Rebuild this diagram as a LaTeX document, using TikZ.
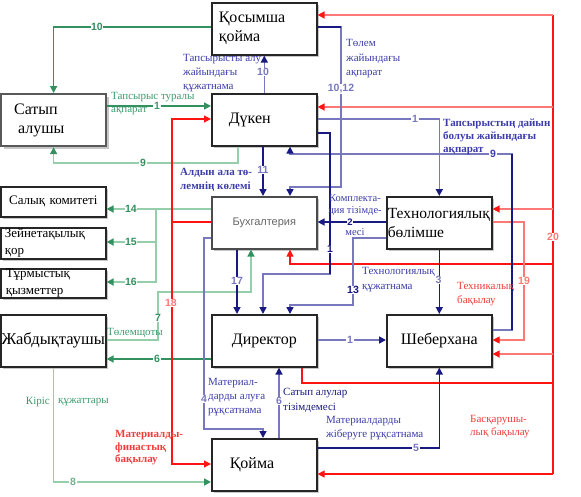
\documentclass[tikz,border=0pt]{standalone}
\usepackage{fontspec}
\setmainfont{Liberation Serif}
\newfontfamily\sansf{Liberation Sans}
\usetikzlibrary{arrows.meta,shadows}
\definecolor{gdark}{RGB}{50,145,95}
\definecolor{glite}{RGB}{150,205,170}
\definecolor{navy}{RGB}{25,25,130}
\definecolor{blite}{RGB}{120,120,190}
\definecolor{rbright}{RGB}{255,20,20}
\definecolor{rlite}{RGB}{255,120,120}
\definecolor{btext}{RGB}{60,60,170}
\definecolor{rtext}{RGB}{240,60,60}
\definecolor{gtext}{RGB}{60,155,110}
\tikzset{
 box/.style={draw=black!85, line width=1.6pt, fill=white, minimum width=105pt, minimum height=52pt,
   anchor=north west, inner xsep=0pt, inner ysep=0pt, font=\fontsize{16}{19}\selectfont,
   drop shadow={shadow xshift=2.5pt, shadow yshift=-2.5pt, fill=black!22, opacity=1}},
 smallbox/.style={box, font=\fontsize{13}{17}\selectfont},
 gl/.style={draw=gdark, line width=1.5pt},
 gll/.style={draw=glite, line width=1.6pt},
 bl/.style={draw=navy, line width=1.5pt},
 bll/.style={draw=blite, line width=1.6pt},
 rl/.style={draw=rbright, line width=1.2pt},
 rll/.style={draw=rlite, line width=1.5pt},
 ag/.style={-{Triangle[length=7pt,width=7pt,color=gdark]}},
 ab/.style={-{Triangle[length=7pt,width=7pt,color=navy]}},
 ar/.style={-{Triangle[length=7pt,width=7pt,color=rbright]}},
 num/.style={fill=white, inner sep=0.6pt, font=\sansf\bfseries\fontsize{10.5}{10.5}\selectfont},
 etxt/.style={inner sep=0pt, anchor=west, align=left, font=\fontsize{11}{14}\selectfont},
}
\begin{document}
\begin{tikzpicture}[x=1pt,y=-1pt]
\useasboundingbox (0,0) rectangle (581,496);
% boxes
\node[box, text width=91pt, align=left] (kos) at (211,2) {Қосымша\\қойма};
\node[box, text width=79pt, align=left, draw=black!65, line width=2.2pt] (sat) at (0,93) {Сатып\\\hspace*{4pt}алушы};
\node[box, text width=71pt, align=left] (duk) at (211,93) {Дүкен};
\node[smallbox, minimum height=30pt, text width=105pt, align=center] (sal) at (0,186) {Салық комитеті};
\node[smallbox, minimum height=31pt, text width=97pt, align=left] (zei) at (0,227) {Зейнетақылық\\қор};
\node[smallbox, minimum height=29pt, text width=95pt, align=left] (tur) at (0,268) {Тұрмыстық\\қызметтер};
\node[box, text width=105pt, align=center, font=\sansf\fontsize{11}{13}\selectfont, text=black!60, draw=black!70] (buh) at (211,196) {Бухгалтерия};
\node[box, text width=103pt, align=left, font=\fontsize{15.5}{19}\selectfont] (tex) at (386,196) {Технологиялық\\бөлімше};
\node[box, text width=105pt, align=center, font=\fontsize{16.5}{19}\selectfont] (zhab) at (0,314) {Жабдықтаушы};
\node[box, text width=105pt, align=center] (dir) at (211,314) {Директор};
\node[box, text width=105pt, align=center] (sheb) at (386,314) {Шеберхана};
\node[box, text width=69pt, align=left] (koima) at (211,438) {Қойма};
% green connectors
\draw[gl,ag] (kos.west |- 0,27) -| (sat.north);
\draw[gl,ag] (sat.east |- 0,106) -- (duk.west |- 0,106);
\draw[gll,ag] (duk.south -| 238,0) -- (238,163) -| (sat.south);
\draw[gll,ag] (buh.west |- 0,209) -- (sal.east |- 0,209);
\draw[gll,ag] (156,209) |- (zei.east |- 0,242);
\draw[gll,ag] (156,209) |- (tur.east |- 0,282);
\draw[gll,ag] (zhab.east |- 0,340) -- (158,340) -- (158,292) -| (buh.south -| 251,0);
\draw[gl,ag] (dir.west |- 0,359) -- (zhab.east |- 0,359);
\draw[gll,ag] (zhab.south) |- (koima.west |- 0,482);
% red material-financial control
\coordinate (rj) at (172,222);
\draw[rl] (buh.west |- rj) -- (rj);
\draw[rl,ar] (rj) |- (duk.west |- 0,119);
\draw[rl,ar] (rj) |- (koima.west |- 0,464);
% red management control
\coordinate (rtop) at (553,15);
\coordinate (rbot) at (553,474);
\draw[rl] (dir.south -| 302,0) |- (553,383);
\draw[rl] (rtop) -- (rbot);
\draw[rll,ar] (rtop) -- (kos.east |- rtop);
\draw[rll,ar] (553,107) -- (duk.east |- 0,107);
\draw[rll,ar] (553,209) -- (tex.east |- 0,209);
\draw[rl,ar] (553,264) -| (buh.south -| 290,0);
\draw[rll,ar] (553,354) -- (sheb.east |- 0,354);
\draw[rl,ar] (rbot) -- (koima.east |- rbot);
% red technical control
\draw[rll,line width=1.2pt,ar] (tex.east |- 0,222) -| (524,340) -- (sheb.east |- 0,340);
% blue connectors
\draw[bll,ab] (duk.north) -- (kos.south);
\draw[bll,ab] (kos.east |- 0,27) -- (341,27) -- (341,187) -| (buh.north -| 290,0);
\draw[bl] (kos.east |- 0,27) -- (341,27);
\draw[bll,ab] (duk.east |- 0,119) -| (tex.north);
\draw[bll,ab] (sheb.east |- 0,330) -- (512,330) -- (512,154) -| (duk.south -| 290,0);
\draw[bl] (512,330) -- (512,154);
\draw[bl,ab] (duk.south -| 263,0) -- (buh.north -| 263,0);
\draw[bll,ab] (duk.east |- 0,133) -- (330,133) -- (330,274) -| (dir.north -| 263,0);
\draw[bl] (duk.east |- 0,133) -- (330,133) -- (330,274);
\draw[bl,ab] (tex.west |- 0,222) -- (buh.east |- 0,222);
\draw[bll,ab] (tex.west |- 0,238) -- (353,238) -- (353,305) -| (dir.north -| 290,0);
\draw[bl,ab] (buh.south -| 237,0) -- (dir.north -| 237,0);
\draw[bl,ab] (tex.south) -- (sheb.north);
\draw[bll,ab] (dir.east |- 0,340) -- (sheb.west |- 0,340);
\draw[bll,ab] (buh.west |- 0,238) -- (204,238) -- (204,429) -| (koima.north -| 263,0);
\draw[bll,ab] (koima.north -| 279,0) -- (dir.south -| 279,0);
\draw[bl,ab] (koima.east |- 0,448) -| (sheb.south);
% edge texts
\node[etxt, text=gtext, font=\fontsize{11}{13}\selectfont] (t1) at (111,103.5) {Тапсырыс туралы\\ақпарат};
\node[etxt, text=btext] (t2) at (183,73) {Тапсырысты алу\\жайындағы\\құжатнама};
\node[etxt, text=btext, font=\fontsize{11}{14.5}\selectfont] (t3) at (346,59) {Төлем\\жайындағы\\ақпарат};
\node[etxt, text=btext, font=\bfseries\fontsize{11}{13}\selectfont] (t4) at (443,137) {Тапсырыстың дайын\\болуы жайындағы\\ақпарат};
\node[etxt, text=btext, font=\bfseries\fontsize{11}{14}\selectfont] (t5) at (180,180) {Алдын ала тө-\\лемнің көлемі};
\node[inner sep=0pt, align=center, text=btext, font=\fontsize{10.5}{12}\selectfont] (t6) at (355,215) {Комплекта-\\ция тізімде-\\[10pt]месі};
\node[etxt, text=btext, font=\fontsize{11}{15}\selectfont] (t7) at (362,279.5) {Технологиялық\\құжатнама};
\node[etxt, text=rtext, font=\fontsize{11}{13.5}\selectfont] (t8) at (457,294) {Техникалық\\бақылау};
\node[etxt, text=gtext] (t9) at (107,333) {Төлемщоты};
\node[etxt, text=gtext, anchor=east] (t10a) at (50,402) {Кіріс};
\node[etxt, text=gtext] (t10b) at (58,402) {құжаттары};
\node[etxt, text=btext] (t11) at (208,397) {Материал-\\дарды алуға\\рұқсатнама};
\node[etxt, text=navy, font=\fontsize{11}{15}\selectfont] (t12) at (283,400.5) {Сатып алулар\\тізімдемесі};
\node[etxt, text=btext] (t13) at (326,428) {Материалдарды\\жіберуге рұқсатнама};
\node[etxt, text=rtext, font=\bfseries\fontsize{11}{12.5}\selectfont] (t14) at (115,448) {Материалды-\\финастық\\бақылау};
\node[etxt, text=rtext, font=\fontsize{11}{13}\selectfont] (t15) at (470,426.5) {Басқарушы-\\лық бақылау};
% number labels
\node[num,text=gdark] (n10g) at (97,27) {10};
\node[num,text=gtext] (n1g) at (157,106) {1};
\node[num,text=gdark] (n9g) at (143,163) {9};
\node[num,text=gdark] (n14) at (131,209) {14};
\node[num,text=gdark] (n15) at (131,242) {15};
\node[num,text=gdark] (n16) at (131,282) {16};
\node[num,text=gdark] (n7) at (158,318) {7};
\node[num,text=gdark] (n6g) at (157,359) {6};
\node[num,text=glite!60!gdark] (n8) at (73,482) {8};
\node[num,text=rlite] (n18) at (171,303) {18};
\node[num,text=rlite] (n20) at (553,237) {20};
\node[num,text=rlite] (n19) at (524,281) {19};
\node[num,text=blite] (n10b) at (263,72) {10};
\node[num,text=blite] (n1012) at (341,89) {10,12};
\node[num,text=blite] (n1b) at (415,119) {1};
\node[num,text=btext] (n9b) at (493,154) {9};
\node[num,text=blite] (n11) at (263,170) {11};
\node[num,text=navy] (n1c) at (330,249) {1};
\node[num,text=navy, font=\sansf\bfseries\fontsize{9.5}{9.5}\selectfont] (n2) at (350,222) {2};
\node[num,text=navy] (n13) at (353,290) {13};
\node[num,text=blite] (n17) at (237,281) {17};
\node[num,text=blite] (n3) at (438.5,280) {3};
\node[num,text=blite] (n1d) at (350,340) {1};
\node[num,text=blite] (n4) at (204,399) {4};
\node[num,text=blite] (n6b) at (279,401) {6};
\node[num,text=blite] (n5) at (416,448) {5};
\end{tikzpicture}
\end{document}
